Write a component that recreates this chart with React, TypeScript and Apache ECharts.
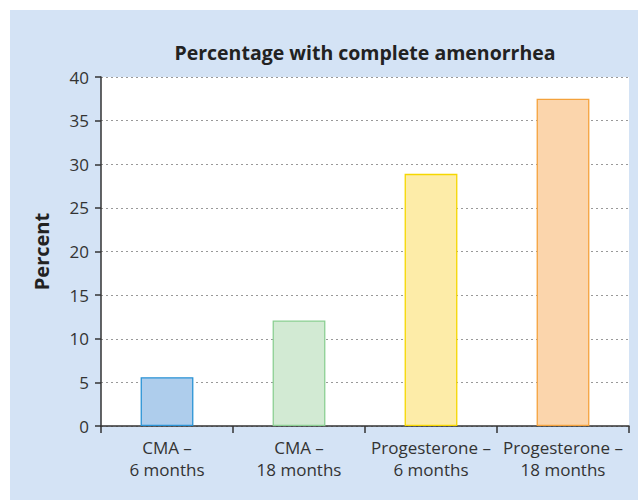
import React, { useEffect, useRef } from "react";
import * as echarts from "echarts";

const categories = ["CMA –\n6 months", "CMA –\n18 months", "Progesterone –\n6 months", "Progesterone –\n18 months"];
const values = [5.6, 12.1, 28.9, 37.5];
const fills = ["#aecdec", "#d2ead3", "#fdeca8", "#fbd5ac"];
const borders = ["#2a93d5", "#8ccf93", "#f6d700", "#f4a23c"];
const yTicks = { min: 0, max: 40, interval: 5 };
const titleText = "Percentage with complete amenorrhea";
const yName = "Percent";

export default function App() {
  const ref = useRef<HTMLDivElement>(null);
  useEffect(() => {
    document.body.style.margin = "0";
    const chart = echarts.init(ref.current!, null, { renderer: "svg" });
    const font = "'Open Sans', 'Noto Sans', sans-serif";
    chart.setOption({
      animation: false,
      textStyle: { fontFamily: font },
      graphic: [
        { type: "rect", z: -10, shape: { x: 10, y: 10, width: 628, height: 490 }, style: { fill: "#d4e3f5" } },
        {
          type: "text", x: 365, y: 52,
          style: { text: titleText, textAlign: "center", textVerticalAlign: "middle", font: `bold 19.5px ${font}`, fill: "#222" },
        },
      ],
      grid: { left: 101, top: 77, right: 9, bottom: 74, show: true, backgroundColor: "#ffffff", borderWidth: 0 },
      xAxis: {
        type: "category",
        data: categories,
        axisLine: { show: true, lineStyle: { color: "#333", width: 1.5 } },
        axisTick: { show: true, alignWithLabel: false, interval: 0, length: 7, lineStyle: { color: "#333", width: 1.5 } },
        axisLabel: { color: "#333", fontSize: 17, lineHeight: 22, margin: 10, interval: 0, hideOverlap: false, fontFamily: font },
      },
      yAxis: {
        type: "value",
        min: yTicks.min, max: yTicks.max, interval: yTicks.interval,
        name: yName, nameLocation: "middle", nameRotate: 90, nameGap: 50,
        nameTextStyle: { fontSize: 20, fontWeight: "bold", color: "#222", fontFamily: font },
        axisLine: { show: true, lineStyle: { color: "#333", width: 1.5 } },
        axisTick: { show: true, length: 6, lineStyle: { color: "#333", width: 1.5 } },
        axisLabel: { color: "#333", fontSize: 17, margin: 12, fontFamily: font },
        splitLine: { show: true, lineStyle: { color: "#999", type: [2, 3], width: 1 } },
      },
      series: [{
        type: "bar",
        barWidth: "40%",
        data: values.map((v, i) => ({
          value: v,
          itemStyle: { color: fills[i], borderColor: borders[i], borderWidth: 1.3 },
        })),
      }],
    });
    return () => chart.dispose();
  }, []);
  return <div ref={ref} style={{ width: 638, height: 500 }} />;
}
